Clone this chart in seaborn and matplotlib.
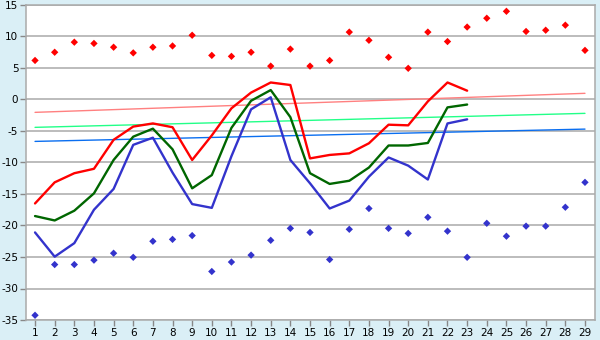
import matplotlib
matplotlib.use("Agg")
import matplotlib.pyplot as plt
import seaborn as sns
import pandas as pd
import numpy as np

# Daily temperature series
days_all = list(range(1, 30))
days_obs = list(range(1, 24))

upper_line = [-16.5, -13.15, -11.7, -11.0, -6.4, -4.3, -3.8, -4.4, -9.6, -5.7,
              -1.4, 1.1, 2.7, 2.3, -9.35, -8.8, -8.55, -6.95, -4.0, -4.1,
              -0.3, 2.7, 1.4]
middle_line = [-18.5, -19.2, -17.65, -14.9, -9.6, -5.9, -4.63, -7.9, -14.1, -12.0,
               -4.5, -0.2, 1.5, -2.8, -11.7, -13.4, -12.9, -10.8, -7.3, -7.3,
               -6.9, -1.25, -0.8]
lower_line = [-21.1, -24.95, -22.8, -17.5, -14.2, -7.2, -6.06, -11.6, -16.6, -17.2,
              -9.0, -1.56, 0.35, -9.6, -13.3, -17.3, -16.05, -12.25, -9.2, -10.5,
              -12.7, -3.8, -3.15]

max_points = [6.2, 7.5, 9.1, 8.9, 8.3, 7.4, 8.3, 8.5, 10.2, 7.0, 6.85, 7.5, 5.3,
              8.0, 5.3, 6.2, 10.7, 9.4, 6.7, 4.95, 10.7, 9.2, 11.5, 12.9, 14.0,
              10.8, 11.0, 11.8, 7.8]
min_points = [-34.25, -26.2, -26.2, -25.5, -24.4, -25.05, -22.5, -22.2, -21.6,
              -27.3, -25.8, -24.7, -22.35, -20.45, -21.1, -25.4, -20.6, -17.3,
              -20.45, -21.25, -18.7, -20.9, -25.05, -19.65, -21.7, -20.1, -20.1,
              -17.1, -13.15]

# Trend lines: value on the first and on the last day
trend_days = [1, 29]
trend_upper = [-2.04, 0.98]
trend_middle = [-4.42, -2.2]
trend_lower = [-6.65, -4.7]

y_ticks = list(range(-35, 16, 5))

BG = "#DAEFF6"
GRID = "#AAAAAA"

sns.set_theme(style="white")
plt.rcParams["font.family"] = ["DejaVu Sans"]
plt.rcParams["axes.unicode_minus"] = False

fig = plt.figure(figsize=(6.0, 3.4), dpi=100, facecolor=BG)
ax = fig.add_axes([26 / 600, 20 / 340, 569 / 600, 315 / 340])
ax.set_facecolor("white")

for y in y_ticks:
    ax.axhline(y, color=GRID, lw=1.1, zorder=0)

trend = pd.DataFrame({
    "day": trend_days * 3,
    "value": trend_upper + trend_middle + trend_lower,
    "series": ["tu"] * 2 + ["tm"] * 2 + ["tl"] * 2,
})
sns.lineplot(data=trend, x="day", y="value", hue="series",
             palette={"tu": "#FF8080", "tm": "#22FF88", "tl": "#0A6EF0"},
             linewidth=1.0, legend=False, ax=ax, zorder=2)

lines = pd.DataFrame({
    "day": days_obs * 3,
    "value": upper_line + middle_line + lower_line,
    "series": ["u"] * 23 + ["m"] * 23 + ["l"] * 23,
})
sns.lineplot(data=lines, x="day", y="value", hue="series", sort=False,
             palette={"u": "#FF0000", "m": "#006600", "l": "#3333CC"},
             linewidth=1.7, legend=False, ax=ax, zorder=3)

pts = pd.DataFrame({
    "day": days_all * 2,
    "value": max_points + min_points,
    "series": ["max"] * 29 + ["min"] * 29,
})
sns.scatterplot(data=pts, x="day", y="value", hue="series",
                palette={"max": "#FF0000", "min": "#3333CC"},
                marker="D", s=14, linewidth=0, legend=False, ax=ax, zorder=4)

ax.set_xlim(0.54, 29.51)
ax.set_ylim(-35, 15)
ax.set_xticks(days_all)
ax.set_yticks(y_ticks)
ax.set_xlabel("")
ax.set_ylabel("")
ax.tick_params(axis="both", which="both", length=4, width=1, color="#888888",
               labelsize=7.5, labelcolor="#000000", pad=1.5,
               bottom=True, left=True)
for side in ["top", "right", "bottom", "left"]:
    ax.spines[side].set_visible(True)
    ax.spines[side].set_color("#AAAAAA")
    ax.spines[side].set_linewidth(1.1)

fig.savefig("out.png", dpi=100, facecolor=BG)
